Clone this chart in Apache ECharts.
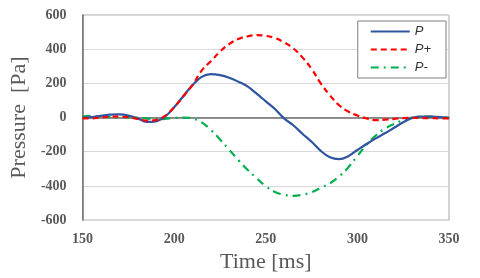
<!DOCTYPE html>
<html><head><meta charset="utf-8">
<script src="https://cdn.jsdelivr.net/npm/echarts@6/dist/echarts.min.js"></script>
<style>html,body{margin:0;padding:0;background:#fff}#c{width:480px;height:278px}</style>
</head><body><div id="c"></div>
<script>
const times = [150,155,160,165,170,175,180,185,190,195,200,205,210,215,220,225,230,235,240,245,250,255,260,265,270,275,280,285,290,295,300,305,310,315,320,325,330,335,340,345,350];
const pValues = [0,3,10,17,18,12,-5,-25,-22,5,60,125,190,238,254,248,233,210,182,140,95,50,-5,-45,-95,-142,-195,-232,-243,-226,-190,-155,-122,-92,-60,-28,-2,6,5,2,-3];
const pPlusValues = [-5,-5,0,5,5,2,-8,-18,-15,10,60,125,190,275,330,385,430,460,475,482,478,465,440,405,352,285,200,130,72,35,12,-5,-15,-12,-8,-3,-2,-3,-3,-5,-5];
const pMinusValues = [5,10,5,3,2,2,0,-5,-10,-8,-2,0,-5,-28,-72,-128,-188,-248,-305,-355,-402,-435,-452,-458,-452,-437,-411,-385,-345,-292,-225,-158,-105,-65,-38,-15,0,5,5,3,0];
const seriesNames = ['P','P+','P-'];
const xTicks = {min:150,max:350,interval:50};
const yTicks = {min:-600,max:600,interval:200};

function pairs(v){return times.map((t,i)=>[t,v[i]]);}
const chart = echarts.init(document.getElementById('c'));
const serif = 'Liberation Serif, Times New Roman, serif';
chart.setOption({
  animation:false,
  grid:{left:80,right:31,top:15,bottom:54,show:true,borderColor:'#a6a6a6',borderWidth:1},
  legend:{
    data:seriesNames.map(n=>({name:n,itemStyle:{opacity:0}})), orient:'vertical', right:34, top:21,
    backgroundColor:'#fff', borderColor:'#7f7f7f', borderWidth:1,
    padding:[4,15,4,12], itemGap:5, itemWidth:39, itemHeight:12,
    textStyle:{fontFamily:'Liberation Sans, Arial, sans-serif',fontStyle:'italic',fontSize:13,color:'#333'}
  },
  xAxis:{type:'value',min:xTicks.min,max:xTicks.max,interval:xTicks.interval,
    name:'Time [ms]',nameLocation:'middle',nameGap:30,
    nameTextStyle:{fontFamily:serif,fontSize:22,color:'#595959'},
    axisLine:{show:true,lineStyle:{color:'#6e6e6e',width:1.5}},axisTick:{show:false},
    axisLabel:{fontFamily:serif,fontSize:14,fontWeight:'bold',color:'#595959',margin:12},
    splitLine:{show:false}},
  yAxis:{type:'value',min:yTicks.min,max:yTicks.max,interval:yTicks.interval,
    name:'Pressure  [Pa]',nameLocation:'middle',nameGap:48,
    nameTextStyle:{fontFamily:serif,fontSize:22,color:'#595959'},
    axisLine:{show:true,lineStyle:{color:'#6e6e6e',width:1.5}},axisTick:{show:false},
    axisLabel:{fontFamily:serif,fontSize:14,fontWeight:'bold',color:'#595959',margin:16},
    splitLine:{show:true,lineStyle:{color:'#d9d9d9',width:1}}},
  series:[
    {name:'P',type:'line',data:pairs(pValues),smooth:0.4,symbol:'none',z:3,
      lineStyle:{color:'#2f54a0',width:2.2},itemStyle:{color:'#2f54a0'}},
    {name:'P+',type:'line',data:pairs(pPlusValues),smooth:0.4,symbol:'none',z:4,
      lineStyle:{color:'#ff0000',width:2.2,type:[6,4]},itemStyle:{color:'#ff0000'}},
    {name:'P-',type:'line',data:pairs(pMinusValues),smooth:0.4,symbol:'none',z:2,
      lineStyle:{color:'#00b050',width:2.2,type:[8,5,2,5]},itemStyle:{color:'#00b050'}}
  ]
});
</script></body></html>
